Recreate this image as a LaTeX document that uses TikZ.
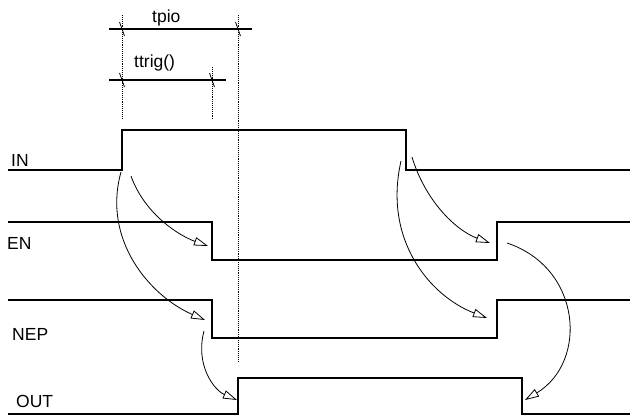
\documentclass[tikz,border=0pt]{standalone}
\usepackage{fontspec}
\setmainfont{Liberation Sans}
\usetikzlibrary{arrows.meta}
\tikzset{
  signal/.style={black, line width=1.1pt},
  guide/.style={black, densely dotted, line width=0.9pt},
  cause/.style={black, line width=0.8pt, -{Triangle[open, length=14pt, width=8.5pt]}},
  lbl/.style={font=\fontsize{17.5}{17.5}\selectfont, inner sep=0pt, anchor=base west},
}
\begin{document}
\begin{tikzpicture}[x=1pt,y=-1pt]
    \useasboundingbox (0,0) rectangle (635,416);

    % signal traces
    \draw[signal] (8,170) -- (122,170) -- (122,130) -- (406,130) -- (406,170) -- (630,170);
    \draw[signal] (8,222) -- (212,222) -- (212,260) -- (497,260) -- (497,222) -- (630,222);
    \draw[signal] (8,300) -- (212,300) -- (212,338) -- (497,338) -- (497,300) -- (630,300);
    \draw[signal] (8,414) -- (238,414) -- (238,378) -- (522,378) -- (522,414) -- (630,414);

    \node[lbl] (in)  at (11,166) {IN};
    \node[lbl] (en)  at (7,249)  {EN};
    \node[lbl] (nep) at (12,340) {NEP};
    \node[lbl] (out) at (16,407) {OUT};

    % timing marks
    \draw[guide] (122,15) -- (122,118);
    \draw[guide] (212,67) -- (212,119);
    \draw[guide] (238,15) -- (238,362);
    \draw[signal] (109,29) -- (252,29);
    \draw[signal] (109,80) -- (226,80);
    \foreach \x/\y in {122/29, 238/29, 122/80, 212/80}
        \draw[black, line width=0.8pt] (\x-2.5,\y-7) -- (\x+2.5,\y+7);
    \node[lbl] (tpio)  at (152,22) {tpio};
    \node[lbl] (ttrig) at (134,67) {ttrig()};

    % cause and effect
    \coordinate (inUp1) at (131,176);
    \coordinate (inUp2) at (121,172);
    \coordinate (inDn1) at (412,157);
    \coordinate (inDn2) at (401,161);
    \coordinate (enDn)  at (208,246);
    \coordinate (enUp)  at (490,243);
    \coordinate (enSrc) at (507,243);
    \coordinate (nepDn) at (205,320);
    \coordinate (nepUp) at (487,318);
    \coordinate (nepSrc) at (204,331);
    \coordinate (outUp) at (237,400);
    \coordinate (outDn) at (525,400);

    \draw[cause] (inUp1) .. controls (145,215) and (180,236) .. (enDn);
    \draw[cause] (inUp2) .. controls (102,240) and (150,296) .. (nepDn);
    \draw[cause] (nepSrc) .. controls (195,365) and (214,390) .. (outUp);
    \draw[cause] (inDn1) .. controls (425,200) and (455,230) .. (enUp);
    \draw[cause] (inDn2) .. controls (383,240) and (430,296) .. (nepUp);
    \draw[cause] (enSrc) .. controls (582,268) and (588,362) .. (outDn);
\end{tikzpicture}
\end{document}
